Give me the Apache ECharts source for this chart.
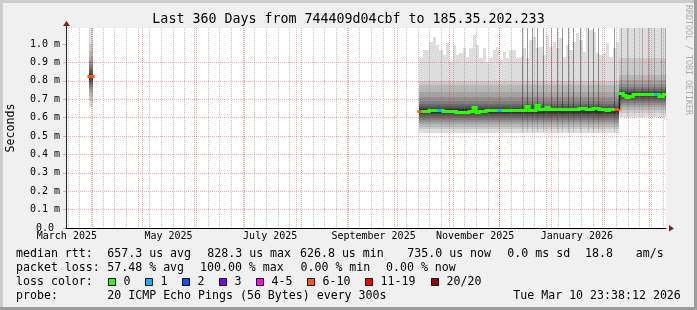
<!DOCTYPE html>
<html><head><meta charset="utf-8">
<script src="https://cdn.jsdelivr.net/npm/echarts@6/dist/echarts.min.js"></script>
<style>html,body{margin:0;padding:0;background:#f0f0f0}#c{width:697px;height:310px}</style>
</head><body><div id="c"></div>
<script>
// ---------------- data ----------------
const DAY = 86400000;
const startTime = Date.UTC(2025, 2, 15, 23, 38, 12);
const endTime = Date.UTC(2026, 2, 10, 23, 38, 12);
const titleText = 'Last 360 Days from 744409d04cbf to 185.35.202.233';
const yAxisName = 'Seconds';
const yMax = 1.087;
const yTickValues = [0, 0.1, 0.2, 0.3, 0.4, 0.5, 0.6, 0.7, 0.8, 0.9, 1.0];
const monthLabels = ['March 2025', 'May 2025', 'July 2025', 'September 2025', 'November 2025', 'January 2026'];
const monthLabelDates = ['2025-03-16T12:00:00Z', '2025-05-16T12:00:00Z', '2025-07-16T12:00:00Z', '2025-09-16T12:00:00Z', '2025-11-16T12:00:00Z', '2026-01-16T12:00:00Z'];
const monthGridDates = ['2025-04-01', '2025-05-01', '2025-06-01', '2025-07-01', '2025-08-01', '2025-09-01', '2025-10-01', '2025-11-01', '2025-12-01', '2026-01-01', '2026-02-01', '2026-03-01'];
const firstMonday = '2025-03-17';

const lossLabels = ['0', '1', '2', '3', '4-5', '6-10', '11-19', '20/20'];
const lossColors = ['#26ff00', '#00b8ff', '#0059ff', '#7e00ff', '#ff00ff', '#ff5500', '#ff0000', '#a10000'];
const smokeShades = ['#dddddd', '#cacaca', '#b7b7b7', '#a4a4a4', '#919191', '#7e7e7e', '#6b6b6b', '#585858', '#454545', '#323232'];

const bucketDays = 2;

// segment 0 : single early sample
const seg0Start = '2025-03-30T02:00:00Z';
const seg0Median = [0.826];
const seg0Loss = [5];
const seg0Top = [1.15];
const seg0PairLo = [0.657, 0.69, 0.72, 0.74, 0.755, 0.768, 0.778, 0.79, 0.80, 0.812];
const seg0PairHi = [1.15, 1.0, 0.96, 0.93, 0.905, 0.885, 0.87, 0.857, 0.845, 0.835];

// segment 1 : Oct 2025 - Feb 2026
const seg1Start = '2025-10-14T02:00:00Z';
const seg1Median = [
  0.636, 0.638, 0.638, 0.640, 0.640, 0.640, 0.641, 0.638, 0.637, 0.636,
  0.634, 0.630, 0.628, 0.628, 0.630, 0.634, 0.655, 0.628, 0.636, 0.638,
  0.640, 0.640, 0.643, 0.641, 0.640, 0.640, 0.641, 0.641, 0.642, 0.643,
  0.644, 0.644, 0.662, 0.642, 0.642, 0.668, 0.645, 0.645, 0.660, 0.645,
  0.645, 0.646, 0.645, 0.646, 0.646, 0.648, 0.648, 0.649, 0.650, 0.654,
  0.647, 0.648, 0.650, 0.652, 0.648, 0.645, 0.643, 0.646, 0.647, 0.645];
const seg1Loss = [
  5, 0, 0, 0, 0, 0, 1, 0, 0, 0,
  0, 0, 0, 0, 0, 0, 0, 0, 0, 0,
  0, 0, 0, 0, 1, 0, 0, 0, 0, 0,
  0, 0, 0, 0, 0, 0, 0, 0, 0, 0,
  0, 0, 0, 0, 0, 0, 0, 0, 0, 0,
  0, 0, 0, 0, 0, 0, 0, 0, 0, 5];
const seg1Top = [
  0.922, 0.967, 0.967, 1.013, 1.040, 0.995, 0.967, 0.940, 1.004, 0.901,
  0.995, 0.940, 0.949, 0.977, 0.931, 0.977, 1.049, 0.995, 0.922, 0.977,
  0.904, 0.922, 0.967, 0.985, 0.913, 0.958, 0.922, 0.967, 0.967, 0.924,
  0.931, 0.978, 0.922, 1.022, 1.040, 0.977, 0.985, 0.940, 1.049, 0.985,
  1.013, 0.977, 1.031, 0.931, 0.995, 0.967, 1.013, 1.058, 1.022, 0.958,
  1.100, 1.076, 1.065, 0.951, 0.940, 0.951, 1.005, 0.929, 0.978, 1.011];
const seg1PairLo = [0.518, 0.536, 0.55, 0.563, 0.575, 0.586, 0.597, 0.607, 0.617, 0.627];
const seg1PairHi = [null, 0.80, 0.775, 0.741, 0.714, 0.692, 0.675, 0.662, 0.652, 0.645];

// segment 2 : Feb 2026 - Mar 2026
const seg2Start = '2026-02-11T02:00:00Z';
const seg2Median = [0.732, 0.725, 0.714, 0.720, 0.727, 0.727, 0.728, 0.727, 0.729, 0.727, 0.728, 0.726, 0.716, 0.730, 0.730];
const seg2Loss = [0, 0, 0, 0, 0, 0, 0, 0, 0, 0, 0, 1, 0, 0, 0];
const seg2Top = [1.15, 1.15, 1.15, 1.15, 1.15, 1.15, 1.15, 1.15, 1.15, 1.15, 1.15, 1.15, 1.15, 1.15, 1.15];
const seg2PairLo = [0.605, 0.625, 0.642, 0.656, 0.668, 0.68, 0.692, 0.703, 0.712, 0.72];
const seg2PairHi = [null, 0.922, 0.832, 0.804, 0.781, 0.765, 0.755, 0.745, 0.738, 0.732];

// high-variance single steps (days after start)
const streakDays = [273.4, 276.4, 279.8, 282.8, 286.0, 291.0, 294.4, 297.4, 301.0, 304.0, 308.4, 313.4, 316.4, 319.4, 329.0, 333.0, 336.4, 341.0, 345.4, 349.4, 352.8, 357.0, 359.4];
const streakBase = [0.655, 0.655, 0.655, 0.655, 0.655, 0.655, 0.655, 0.655, 0.655, 0.655, 0.655, 0.655, 0.655, 0.655, 0.655, 0.74, 0.74, 0.74, 0.74, 0.74, 0.74, 0.74, 0.74];
const streakFloor = [0.52, 0.52, 0.52, 0.52, 0.52, 0.52, 0.52, 0.52, 0.52, 0.52, 0.52, 0.52, 0.52, 0.52, 0.52, 0.605, 0.605, 0.605, 0.605, 0.605, 0.605, 0.605, 0.605];
const streakStrength = [0.4, 0.4, 0.4, 0.4, 0.4, 0.28, 0.4, 0.4, 0.4, 0.4, 0.4, 0.4, 0.4, 0.4, 0.4, 0.22, 0.22, 0.22, 0.22, 0.22, 0.22, 0.22, 0.22];

// legend texts
const legendRows = [
  [['median rtt:', 16], ['657.3 us avg', 107.3], ['828.3 us max', 207.3], ['626.8 us min', 300], ['735.0 us now', 407.3], ['0.0 ms sd', 507.3], ['18.8', 585], ['am/s', 635.7]],
  [['packet loss:', 16], ['57.48 % avg', 107.3], ['100.00 % max', 200], ['0.00 % min', 300.5], ['0.00 % now', 386]],
  [['loss color:', 16]],
  [['probe:', 16], ['20 ICMP Echo Pings (56 Bytes) every 300s', 107.3], ['Tue Mar 10 23:38:12 2026', 513.3]]
];
const lossBoxX = [108.5, 145.5, 182.5, 219.5, 256.5, 307.5, 365.5, 431.5];
const rrdtoolText = 'RRDTOOL / TOBI OETIKER';

// ---------------- build ----------------
const smokeData = [];
const medianData = [];
let prevSegLastMedian = null;
function addSegment(startStr, median, loss, top, pairLo, pairHi, darkJoin) {
  const s = Date.parse(startStr);
  for (let i = 0; i < median.length; i++) {
    const t0 = s + i * bucketDays * DAY, t1 = t0 + bucketDays * DAY;
    for (let k = 0; k < pairLo.length; k++) {
      const hi = k === 0 ? top[i] : pairHi[k];
      smokeData.push([t0, t1, pairLo[k], hi, k]);
    }
    let conn = 0, prev = median[i];
    if (i > 0) { conn = 1; prev = median[i - 1]; }
    else if (darkJoin && prevSegLastMedian !== null) { conn = 2; prev = prevSegLastMedian; }
    medianData.push([t0, t1, median[i], prev, loss[i], conn]);
  }
  prevSegLastMedian = median[median.length - 1];
}
addSegment(seg0Start, seg0Median, seg0Loss, seg0Top, seg0PairLo, seg0PairHi, false);
addSegment(seg1Start, seg1Median, seg1Loss, seg1Top, seg1PairLo, seg1PairHi, false);
addSegment(seg2Start, seg2Median, seg2Loss, seg2Top, seg2PairLo, seg2PairHi, true);

const streakData = [];
for (let i = 0; i < streakDays.length; i++) {
  const t = startTime + streakDays[i] * DAY;
  streakData.push([t, streakBase[i], 1.15, streakStrength[i]]);
  streakData.push([t, streakFloor[i], streakBase[i], streakStrength[i] * 0.35]);
}

const monthGridValues = monthGridDates.map(d => Date.parse(d));
const monthLabelValues = monthLabelDates.map(d => Date.parse(d));
const weekValues = [];
for (let t = Date.parse(firstMonday); t <= endTime; t += 7 * DAY) weekValues.push(t);

const MONO = 'DejaVu Sans Mono';
const GRID = { left: 66, top: 28, width: 600, height: 200 };

const graphics = [];
// 3D frame
graphics.push({ type: 'rect', shape: { x: 0, y: 0, width: 697, height: 3 }, style: { fill: '#cdcdcd' }, silent: true });
graphics.push({ type: 'rect', shape: { x: 0, y: 0, width: 3, height: 310 }, style: { fill: '#cdcdcd' }, silent: true });
graphics.push({ type: 'rect', shape: { x: 694, y: 0, width: 3, height: 310 }, style: { fill: '#9c9c9c' }, silent: true });
graphics.push({ type: 'rect', shape: { x: 0, y: 307, width: 697, height: 3 }, style: { fill: '#9c9c9c' }, silent: true });
// title
graphics.push({ type: 'text', x: 348.5, y: 19.5, style: { text: titleText, font: '13.3px ' + MONO, fill: '#000', textAlign: 'center', textVerticalAlign: 'middle' }, silent: true });
// watermark
graphics.push({ type: 'text', x: 688, y: 60, rotation: -Math.PI / 2, style: { text: rrdtoolText, font: '8.3px ' + MONO, fill: '#ababab', textAlign: 'center', textVerticalAlign: 'middle' }, silent: true });
// arrows
const gx0 = GRID.left, gy0 = GRID.top + GRID.height, gx1 = GRID.left + GRID.width;
graphics.push({ type: 'polygon', shape: { points: [[gx1 + 3, gy0 - 3], [gx1 + 8, gy0 + 0.5], [gx1 + 3, gy0 + 3.5]] }, style: { fill: '#8b1a1a' }, silent: true, z: 100 });
graphics.push({ type: 'polygon', shape: { points: [[gx0 - 3, GRID.top - 2], [gx0 + 0.5, GRID.top - 7], [gx0 + 4, GRID.top - 2]] }, style: { fill: '#8b1a1a' }, silent: true, z: 100 });
graphics.push({ type: 'line', shape: { x1: gx0 + 0.5, y1: GRID.top - 3, x2: gx0 + 0.5, y2: GRID.top }, style: { stroke: '#222', lineWidth: 1 }, silent: true });
// legend
const rowY = [254.3, 268.3, 282.3, 296.2];
legendRows.forEach((row, r) => {
  row.forEach(([txt, x]) => {
    graphics.push({ type: 'text', x: x, y: rowY[r], style: { text: txt, font: '11.6px ' + MONO, fill: '#000', textVerticalAlign: 'middle' }, silent: true });
  });
});
lossLabels.forEach((lab, i) => {
  graphics.push({ type: 'rect', shape: { x: lossBoxX[i], y: 278.5, width: 7, height: 7 }, style: { fill: lossColors[i], stroke: '#000', lineWidth: 1 }, silent: true });
  graphics.push({ type: 'text', x: lossBoxX[i] + 15, y: rowY[2], style: { text: lab, font: '11.6px ' + MONO, fill: '#000', textVerticalAlign: 'middle' }, silent: true });
});

const majorGrid = 'rgba(255,0,0,0.36)';
const minorGrid = 'rgba(120,120,120,0.45)';

const chart = echarts.init(document.getElementById('c'), null, { renderer: 'canvas' });
chart.setOption({
  backgroundColor: '#f0f0f0',
  animation: false,
  grid: Object.assign({ show: true, backgroundColor: '#ffffff', borderWidth: 0, containLabel: false, outerBoundsMode: 'none' }, GRID),
  xAxis: {
    type: 'value', min: startTime, max: endTime, position: 'bottom', z: 3,
    axisLine: { show: true, onZero: false, lineStyle: { color: '#000', width: 1 } },
    axisTick: { show: false, customValues: monthGridValues },
    splitLine: { show: true, lineStyle: { color: majorGrid, width: 1, type: [1, 1] } },
    axisLabel: {
      customValues: monthLabelValues, margin: 3, fontFamily: MONO, fontSize: 10, color: '#000',
      formatter: v => { const i = monthLabelValues.indexOf(v); return i >= 0 ? monthLabels[i] : ''; }
    }
  },
  yAxis: {
    type: 'value', min: 0, max: yMax, interval: 0.1, z: 3,
    name: yAxisName, nameLocation: 'middle', nameGap: 49, nameRotate: 90, nameMoveOverlap: false,
    nameTextStyle: { fontFamily: MONO, fontSize: 11.6, color: '#000' },
    axisLine: { show: true, lineStyle: { color: '#222', width: 1 } },
    axisTick: { show: true, length: 3, customValues: yTickValues, lineStyle: { color: majorGrid } },
    splitLine: { show: true, showMinLine: false, showMaxLine: false, lineStyle: { color: majorGrid, width: 1, type: [1, 1] } },
    axisLabel: {
      customValues: yTickValues, margin: 6, fontFamily: MONO, fontSize: 10, color: '#000',
      formatter: v => (Math.abs(v) < 1e-9 ? '0.0 ' : v.toFixed(1) + ' m')
    }
  },
  series: [
    {
      type: 'custom', name: 'smoke', z: 1, clip: true, silent: true,
      encode: { x: [0, 1], y: [2, 3] },
      data: smokeData,
      renderItem: (params, api) => {
        const a = api.coord([api.value(0), api.value(3)]);
        const b = api.coord([api.value(1), api.value(2)]);
        const x0 = Math.round(a[0]), x1 = Math.round(b[0]);
        const y0 = Math.round(a[1]), y1 = Math.round(b[1]);
        return { type: 'rect', shape: { x: x0, y: y0, width: x1 - x0, height: y1 - y0 }, style: { fill: smokeShades[api.value(4)] } };
      }
    },
    {
      type: 'custom', name: 'streaks', z: 1, clip: true, silent: true,
      encode: { x: 0, y: [1, 2] },
      data: streakData,
      renderItem: (params, api) => {
        const a = api.coord([api.value(0), api.value(2)]);
        const b = api.coord([api.value(0), api.value(1)]);
        const x0 = Math.round(a[0]);
        return { type: 'rect', shape: { x: x0, y: Math.round(a[1]), width: 1, height: Math.round(b[1]) - Math.round(a[1]) }, style: { fill: 'rgba(0,0,0,' + api.value(3) + ')' } };
      }
    },
    {
      type: 'custom', name: 'weekGrid', z: 2, clip: true, silent: true,
      encode: { x: 0 },
      data: weekValues.map(v => [v]),
      renderItem: (params, api) => {
        const p = api.coord([api.value(0), 0]);
        const cs = params.coordSys;
        const x = Math.round(p[0]) + 0.5;
        return { type: 'line', shape: { x1: x, y1: cs.y, x2: x, y2: cs.y + cs.height }, style: { stroke: minorGrid, lineWidth: 1, lineDash: [1, 1] } };
      }
    },
    {
      type: 'custom', name: 'median', z: 5, clip: true, silent: true,
      encode: { x: [0, 1], y: [2, 3] },
      data: medianData,
      renderItem: (params, api) => {
        const t0 = api.value(0), t1 = api.value(1), m = api.value(2), prev = api.value(3), cls = api.value(4), conn = api.value(5);
        const p0 = api.coord([t0, m]), p1 = api.coord([t1, m]);
        const x0 = Math.round(p0[0]), x1 = Math.round(p1[0]), y = Math.round(p0[1]) + 0.5;
        const children = [];
        let pts = [[x0, y], [x1, y]];
        if (conn === 2) {
          const pp = api.coord([t0, prev]);
          children.push({ type: 'line', shape: { x1: x0 + 0.5, y1: Math.round(pp[1]), x2: x0 + 0.5, y2: y }, style: { stroke: '#202020', lineWidth: 1.5 } });
        } else if (conn === 1) {
          const pp = api.coord([t0, prev]);
          pts.unshift([x0, Math.round(pp[1]) + 0.5]);
        }
        children.push({ type: 'polyline', shape: { points: pts }, style: { stroke: lossColors[cls], lineWidth: 3, fill: null, lineCap: 'square', lineJoin: 'miter' } });
        return { type: 'group', children: children };
      }
    }
  ],
  graphic: graphics
});
</script>
</body></html>
